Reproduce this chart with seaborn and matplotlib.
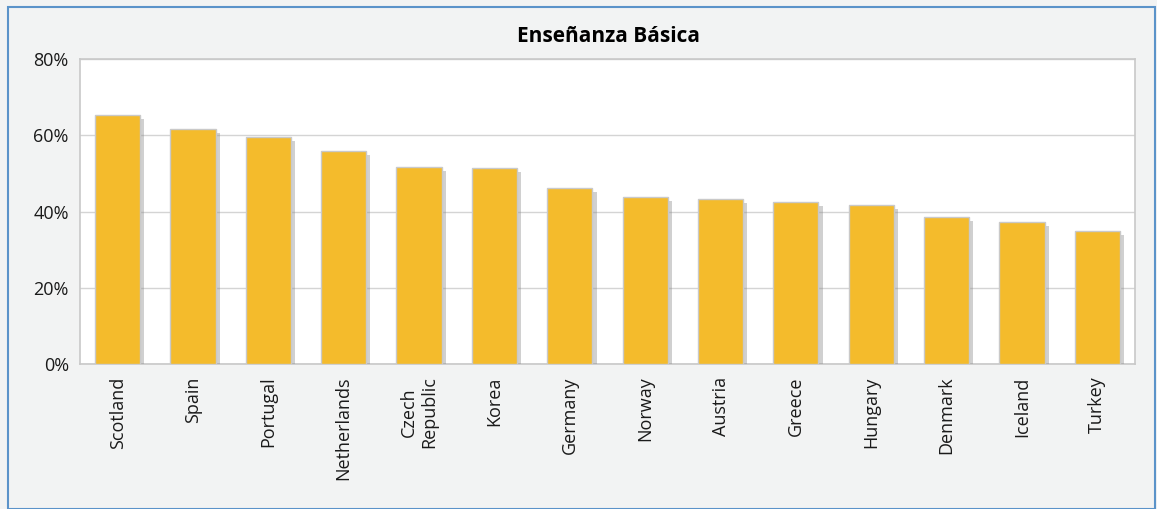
import matplotlib
matplotlib.use("Agg")
import matplotlib.pyplot as plt
import matplotlib.patheffects as pe
from matplotlib.patches import Rectangle
from matplotlib.ticker import PercentFormatter
import seaborn as sns
import pandas as pd

countries = ["Scotland", "Spain", "Portugal", "Netherlands", "Czech\nRepublic", "Korea",
             "Germany", "Norway", "Austria", "Greece", "Hungary", "Denmark", "Iceland", "Turkey"]
values = [65.3, 61.7, 59.6, 55.9, 51.7, 51.4, 46.2, 43.8, 43.3, 42.6, 41.7, 38.5, 37.3, 34.9]
title = "Enseñanza Básica"
yticks = [0, 20, 40, 60, 80]

sns.set_theme(style="white")
plt.rcParams['font.family'] = ['Open Sans', 'DejaVu Sans']

df = pd.DataFrame({"country": countries, "value": values})

fig = plt.figure(figsize=(11.57, 5.09), dpi=100, facecolor="#f2f3f3")
fig.patches.append(Rectangle((0.007, 0.0), 0.991, 0.986, transform=fig.transFigure,
                             fill=False, edgecolor="#5b93c9", linewidth=1.5))
ax = fig.add_axes([0.0691, 0.2849, 0.9119, 0.5991])
ax.set_facecolor("white")

sns.barplot(data=df, x="country", y="value", color="#f4bb2c", width=0.6,
            edgecolor="#c9c9c9", linewidth=1.0, saturation=1, ax=ax, zorder=3)
for p in ax.patches:
    p.set_path_effects([pe.SimplePatchShadow(offset=(3, -3), shadow_rgbFace="#8a8a8a", alpha=0.4),
                        pe.Normal()])

ax.set_ylim(0, 80)
ax.set_yticks(yticks)
ax.yaxis.set_major_formatter(PercentFormatter(decimals=0))
ax.grid(axis="y", color="#d4d4d4", linewidth=1.0, zorder=0)
ax.set_axisbelow(True)
ax.set_xlim(-0.5, len(countries) - 0.5)
for s in ax.spines.values():
    s.set_color("#c8c8c8")
    s.set_linewidth(1.2)
ax.set_xlabel("")
ax.set_ylabel("")
ax.tick_params(axis="y", labelsize=13, colors="#1a1a1a", length=0, pad=8)
ax.tick_params(axis="x", labelsize=13, colors="#1a1a1a", length=0, pad=9)
for lbl in ax.get_xticklabels():
    lbl.set_rotation(90)
    lbl.set_va("top")
    lbl.set_ha("center")
    lbl.set_multialignment("center")

fig.text(0.526, 0.928, title, ha="center", va="center", fontsize=15, fontweight="bold",
         color="#000000")

fig.savefig("out.png", dpi=100, facecolor=fig.get_facecolor())
